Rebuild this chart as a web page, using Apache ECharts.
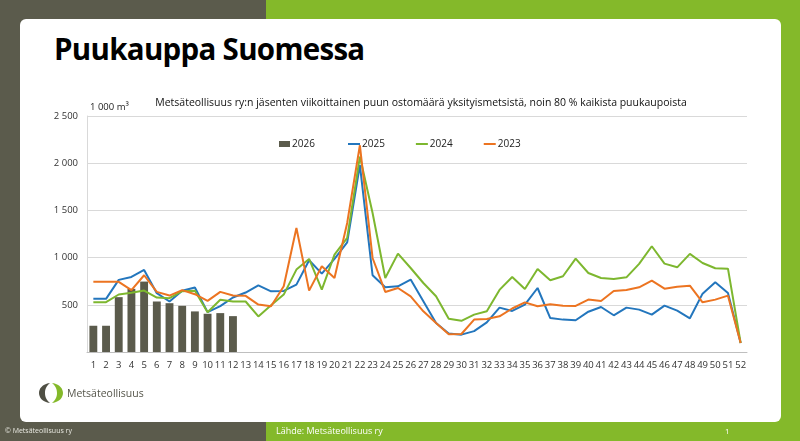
<!DOCTYPE html>
<html>
<head>
<meta charset="utf-8">
<script src="https://cdn.jsdelivr.net/npm/echarts@6/dist/echarts.min.js"></script>
<style>
html,body{margin:0;padding:0;width:800px;height:441px;overflow:hidden;font-family:"Open Sans","Noto Sans",sans-serif;}
#bgL{position:absolute;left:0;top:0;width:266px;height:441px;background:#5b5b4c;}
#bgR{position:absolute;left:266px;top:0;width:534px;height:441px;background:#84b92a;}
#card{position:absolute;left:20px;top:19px;width:761px;height:403px;background:#fff;border-radius:6px;}
#title{position:absolute;left:54px;top:31px;font-size:29.5px;font-weight:700;color:#000;line-height:36px;letter-spacing:-0.7px;}
#chart{position:absolute;left:0;top:0;width:800px;height:441px;}
#logo{position:absolute;left:39px;top:382px;}
#logoText{position:absolute;left:67px;top:386px;font-size:10.5px;color:#55554a;line-height:14px;}
.foot{position:absolute;top:424px;font-size:8px;color:#e8e8e0;line-height:14px;}
</style>
</head>
<body>
<div id="bgL"></div><div id="bgR"></div>
<div id="card"></div>
<div id="title">Puukauppa Suomessa</div>
<div id="chart"></div>
<svg id="logo" width="26" height="22" viewBox="0 0 26 22">
  <path d="M11 1 C3 2 0 7 0 11 C0 15 3 20 11 21 C7 18 6 14 6 11 C6 8 7 4 11 1 Z" fill="#4f4f44"/>
  <path d="M13 1 C21 2 24 7 24 11 C24 15 21 20 13 21 C17 18 18 14 18 11 C18 8 17 4 13 1 Z" fill="#84b92a"/>
</svg>
<div id="logoText">Metsäteollisuus</div>
<div class="foot" style="left:5px;font-size:7px;">© Metsäteollisuus ry</div>
<div class="foot" style="left:276px;font-size:9px;color:#fff;">Lähde: Metsäteollisuus ry</div>
<div class="foot" style="left:725px;font-size:8px;color:#fff;">1</div>
<script>
const weeks = [];
for (let i = 1; i <= 52; i++) weeks.push(String(i));
const yTicks = [0, 500, 1000, 1500, 2000, 2500];
const seriesNames = ['2026', '2025', '2024', '2023'];
const d2026 = [278,278,581,669,746,535,517,489,430,405,412,380];
const d2025 = [563,563,764,795,869,623,535,648,683,422,486,577,630,705,643,647,714,972,830,986,1162,1980,813,685,696,767,537,307,196,184,221,314,470,435,502,678,360,343,336,427,477,389,470,449,396,491,438,357,618,738,625,95];
const d2024 = [528,528,609,627,651,577,570,644,648,422,553,535,535,377,495,608,873,986,661,1032,1208,2070,1473,784,1042,890,731,590,353,330,396,431,658,795,668,880,760,802,989,837,784,774,791,933,1120,936,897,1039,943,887,883,95];
const d2023 = [743,743,743,655,813,637,598,655,612,542,637,598,595,502,484,696,1314,650,908,784,1367,2190,996,636,678,590,431,307,188,191,343,350,378,461,526,484,505,491,488,555,541,647,657,685,756,671,692,703,526,555,597,95];

const colors = ['#5b5b4c', '#2376bd', '#7db72f', '#ec7421'];
const chart = echarts.init(document.getElementById('chart'));
chart.setOption({
  backgroundColor: 'transparent',
  animation: false,
  textStyle: {fontFamily: '"Open Sans","Noto Sans",sans-serif'},
  title: {
    text: 'Metsäteollisuus ry:n jäsenten viikoittainen puun ostomäärä yksityismetsistä, noin 80 % kaikista puukaupoista',
    left: 416, top: 93, textAlign: 'center',
    textStyle: {fontSize: 10.5, fontWeight: 'normal', color: '#111'}
  },
  graphic: [{
    type: 'text', left: 90, top: 102,
    style: {text: '1 000 m³', fontSize: 9.5, fill: '#222', fontFamily: '"Open Sans",sans-serif'}
  }],
  legend: [{
    data: [seriesNames[0]],
    left: 274, top: 134,
    itemWidth: 11, itemHeight: 6,
    icon: 'rect',
    textStyle: {fontSize: 10, color: '#222', padding: [0, 0, 0, -3]}
  }, {
    data: seriesNames.slice(1),
    left: 343, top: 134,
    itemWidth: 12, itemHeight: 2, itemGap: 31,
    icon: 'rect',
    textStyle: {fontSize: 10, color: '#222', padding: [0, 0, 0, -3]}
  }],
  grid: {left: 87, right: 53, top: 116, height: 236},
  xAxis: {
    type: 'category', data: weeks,
    axisLine: {lineStyle: {color: '#bfbfbf'}},
    axisTick: {length: 4, lineStyle: {color: '#bfbfbf'}},
    axisLabel: {interval: 0, fontSize: 9.5, color: '#333', margin: 8}
  },
  yAxis: {
    type: 'value', min: yTicks[0], max: yTicks[yTicks.length - 1], interval: 500,
    axisLine: {show: true, lineStyle: {color: '#d9d9d9'}},
    axisTick: {show: false},
    splitLine: {lineStyle: {color: '#d9d9d9'}},
    axisLabel: {fontSize: 9.5, color: '#333', margin: 9,
      formatter: v => v === 0 ? '' : String(v).replace(/\B(?=(\d{3})+(?!\d))/g, ' ')}
  },
  series: [
    {name: seriesNames[0], type: 'bar', data: d2026, barWidth: '62%', itemStyle: {color: colors[0]}},
    {name: seriesNames[1], type: 'line', data: d2025, symbol: 'none', lineStyle: {width: 2, color: colors[1]}, itemStyle: {color: colors[1]}},
    {name: seriesNames[2], type: 'line', data: d2024, symbol: 'none', lineStyle: {width: 2, color: colors[2]}, itemStyle: {color: colors[2]}},
    {name: seriesNames[3], type: 'line', data: d2023, symbol: 'none', lineStyle: {width: 2, color: colors[3]}, itemStyle: {color: colors[3]}}
  ]
});
</script>
</body>
</html>
